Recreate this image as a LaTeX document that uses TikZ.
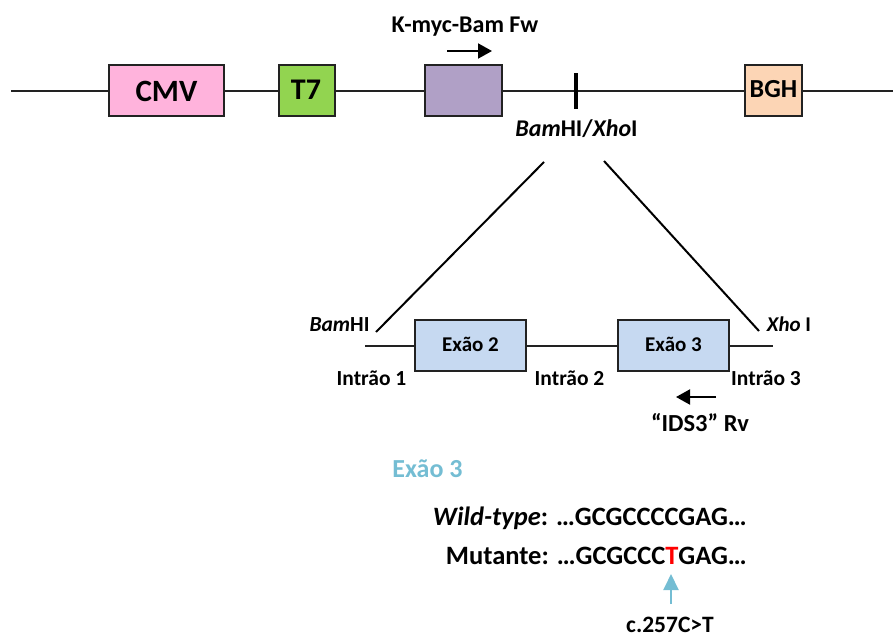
\documentclass[tikz,border=0pt]{standalone}
\usepackage{fontspec}
\setmainfont{Carlito}
\usetikzlibrary{arrows.meta}
\definecolor{pinkbox}{HTML}{FFB3DC}
\definecolor{greenbox}{HTML}{92D450}
\definecolor{purplebox}{HTML}{B0A0C6}
\definecolor{peachbox}{HTML}{FCD5B5}
\definecolor{bluebox}{HTML}{C6D9F1}
\definecolor{tealtxt}{HTML}{74BDD3}
\definecolor{linegray}{HTML}{222222}
\newcommand{\fs}[1]{\fontsize{#1}{#1}\selectfont\bfseries}
\tikzset{
 x=1pt,y=-1pt,
 gbox/.style={draw=linegray,line width=2pt,minimum height=51pt,inner sep=0pt,outer sep=0pt,anchor=north west},
 wire/.style={draw=linegray,line width=2pt},
 lab/.style={inner sep=0pt,text=black,anchor=base},
 tip/.style={-{Triangle[length=14pt,width=15pt]},line width=2pt,black},
}
\begin{document}
\begin{tikzpicture}
\useasboundingbox (0,0) rectangle (893,637);
% top construct
\node[gbox,fill=pinkbox,minimum width=115pt] (cmv) at (109,65) {};
\node[gbox,fill=greenbox,minimum width=56pt] (t7) at (279,65) {};
\node[gbox,fill=purplebox,minimum width=77pt] (ins) at (425,65) {};
\node[gbox,fill=peachbox,minimum width=57pt] (bgh) at (745,65) {};
\node[lab] (cmvt) at (166.5,101) {\fs{31}CMV};
\node[lab] (t7t) at (306,99) {\fs{30}T7};
\node[lab] (bght) at (773.5,97) {\fs{26}BGH};
\coordinate (lend) at (11,90.5);
\coordinate (rend) at (893,90.5);
\draw[wire] (lend) -- (cmv.west);
\draw[wire] (cmv.east) -- (t7.west);
\draw[wire] (t7.east) -- (ins.west);
\draw[wire] (ins.east) -- (bgh.west);
\draw[wire] (bgh.east) -- (rend);
\coordinate (tickt) at (575.5,73);
\coordinate (tickb) at (575.5,109);
\draw[black,line width=4pt] (tickt) -- (tickb);
\node[lab] (kmyc) at (465,32) {\fs{24}K-myc-Bam Fw};
\coordinate (fa) at (447,51);
\coordinate (fb) at (492,51);
\draw[tip] (fa) -- (fb);
\node[lab] (site) at (576.5,136) {\fs{24}\textit{Bam}HI/\textit{Xho}I};
% zoom lines
\coordinate (da) at (544,162);
\coordinate (db) at (376,332);
\coordinate (dc) at (604,161);
\coordinate (dd) at (759,331);
\draw[black,line width=2pt] (da) -- (db);
\draw[black,line width=2pt] (dc) -- (dd);
% gene
\node[gbox,fill=bluebox,minimum width=111pt] (ex2) at (415,320) {};
\node[gbox,fill=bluebox,minimum width=111pt] (ex3) at (618,320) {};
\node[lab] (ex2t) at (470.5,351) {\fs{21}Exão 2};
\node[lab] (ex3t) at (673.5,351) {\fs{21}Exão 3};
\coordinate (gl) at (365,345.5);
\coordinate (gr) at (773,345.5);
\draw[wire] (gl) -- (ex2.west);
\draw[wire] (ex2.east) -- (ex3.west);
\draw[wire] (ex3.east) -- (gr);
\node[lab] (bam) at (339.5,331) {\fs{21.5}\textit{Bam}HI};
\node[lab] (xho) at (789,331) {\fs{21}\textit{Xho} I};
\node[lab] (i1) at (371.5,385) {\fs{21.5}Intrão 1};
\node[lab] (i2) at (569.5,385) {\fs{21.5}Intrão 2};
\node[lab] (i3) at (766,385) {\fs{21.5}Intrão 3};
\coordinate (ra) at (716,397);
\coordinate (rb) at (676,397);
\draw[tip] (ra) -- (rb);
\node[lab] (ids) at (700,431) {\fs{24.5}“IDS3” Rv};
% sequences
\node[lab,text=tealtxt] (ex3b) at (427.5,477) {\fs{26}Exão 3};
\node[lab,anchor=base east] (wt) at (747,525) {\fs{26.5}\textit{Wild-type}: …GCGCCCCGAG…};
\node[lab,anchor=base east] (mu) at (747,564) {\fs{26.5}Mutante: …GCGCCC\textcolor{red}{T}GAG…};
\coordinate (ua) at (671,604);
\coordinate (ub) at (671,574);
\draw[-{Triangle[length=16pt,width=15pt]},line width=2pt,tealtxt] (ua) -- (ub);
\node[lab] (cc) at (670,632) {\fs{23.5}c.257C>T};
\end{tikzpicture}
\end{document}
